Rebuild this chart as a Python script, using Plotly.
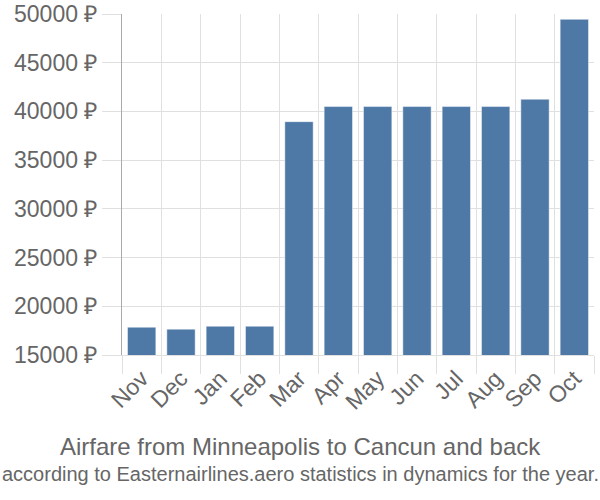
import plotly.graph_objects as go

months = ["Nov", "Dec", "Jan", "Feb", "Mar", "Apr", "May", "Jun", "Jul", "Aug", "Sep", "Oct"]
prices = [17850, 17650, 17950, 17950, 38950, 40500, 40500, 40500, 40500, 40500, 41250, 49450]
y_ticks = [15000, 20000, 25000, 30000, 35000, 40000, 45000, 50000]
title_text = "Airfare from Minneapolis to Cancun and back"
subtitle_text = "according to Easternairlines.aero statistics in dynamics for the year."

L, R, T, B = 122, 6, 14, 145
W, H = 600, 500
pw = W - L - R
ph = H - T - B

fig = go.Figure(go.Bar(
    x=months, y=prices,
    marker=dict(color="#4e79a7", line=dict(color="rgba(255,255,255,0.45)", width=1)),
    hoverinfo="x+y",
))

font_fam = "Liberation Sans, Arial, sans-serif"
fig.update_layout(
    width=W, height=H,
    margin=dict(l=L, r=R, t=T, b=B, pad=0, autoexpand=False),
    plot_bgcolor="white", paper_bgcolor="white",
    bargap=0.28,
    showlegend=False,
    font=dict(family=font_fam, color="#666666", size=20),
    xaxis=dict(
        type="category", range=[-0.5, 11.5], tickson="boundaries",
        showgrid=True, gridcolor="#e0e0e0", gridwidth=1,
        ticks="outside", ticklen=18, tickcolor="#e0e0e0", tickwidth=1,
        tickangle=-45, tickfont=dict(size=23, color="#666666"),
        showline=True, linecolor="#e0e0e0", linewidth=1,
        automargin=False,
    ),
    yaxis=dict(
        range=[15000, 50000], tickvals=y_ticks,
        ticktext=[f"{v} ₽" for v in y_ticks],
        showgrid=True, gridcolor="#e0e0e0", gridwidth=1,
        ticks="outside", ticklen=19, tickcolor="#e0e0e0", tickwidth=1,
        tickfont=dict(size=23, color="#666666"),
        showline=True, linecolor="#aaaaaa", linewidth=1,
        zeroline=False, automargin=False,
    ),
    annotations=[
        dict(text=title_text, xref="paper", yref="paper",
             x=(300 - L) / pw, y=(H - B - 446) / ph, xanchor="center", yanchor="middle",
             showarrow=False, font=dict(size=24, color="#666666", family=font_fam)),
        dict(text=subtitle_text, xref="paper", yref="paper",
             x=(300 - L) / pw, y=(H - B - 474) / ph, xanchor="center", yanchor="middle",
             showarrow=False, font=dict(size=20, color="#666666", family=font_fam)),
    ],
)

fig.write_html("out.html")
